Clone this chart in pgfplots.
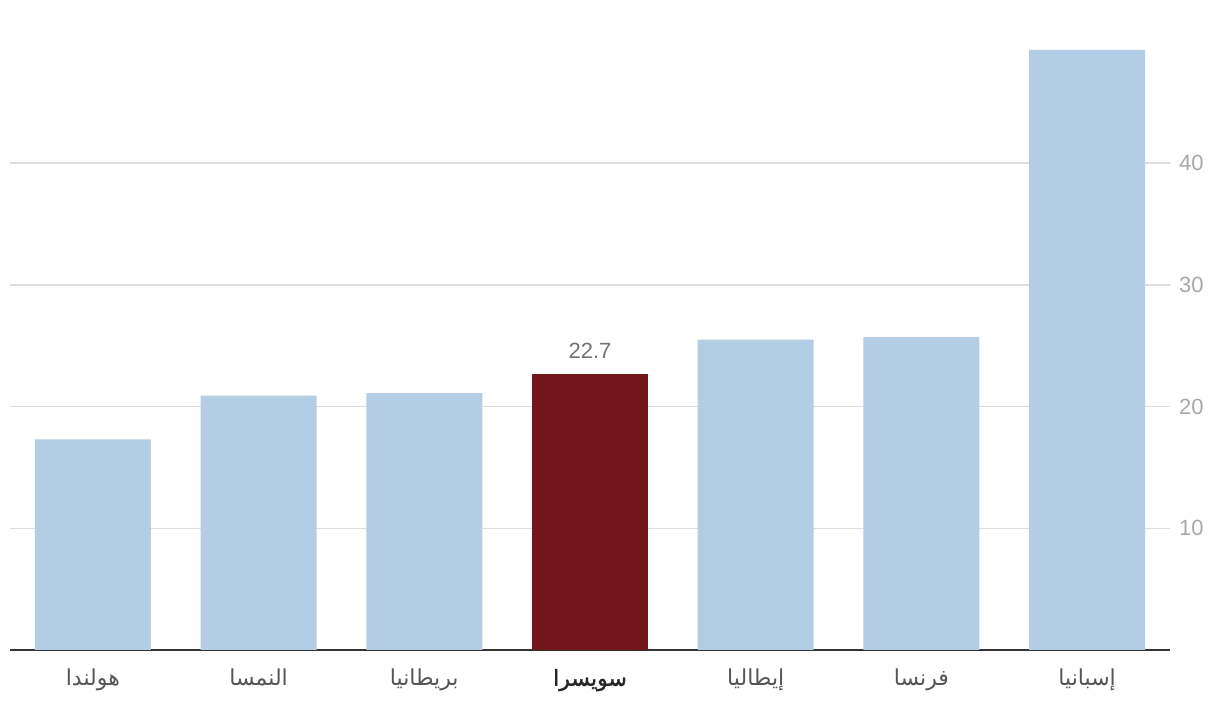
\documentclass[border=0pt]{standalone}
\usepackage{pgfplots}
\pgfplotsset{compat=1.18}
\usepackage{fontspec}
\setmainfont{Liberation Sans}
\newfontfamily\arabicfont[Script=Arabic]{DejaVu Sans}
\newfontfamily\arabicsemi[Script=Arabic, FakeBold=1.4]{DejaVu Sans}
\TeXXeTstate=1
\definecolor{barblue}{HTML}{B3CDE4}
\definecolor{barred}{HTML}{74151B}
\definecolor{gridgray}{HTML}{DDDDDD}
\definecolor{ticklab}{HTML}{A8A8A8}
\definecolor{catlab}{HTML}{555555}
\begin{document}
\begin{tikzpicture}
\begin{axis}[name=ax,
  scale only axis, width=580pt, height=325pt,
  xmin=-0.5, xmax=6.5, ymin=0, ymax=53.4,
  axis y line*=right, axis x line*=bottom,
  y axis line style={draw=none},
  x axis line style={draw=black!80, line width=0.8pt},
  ytick={10,20,30,40}, ymajorgrids, grid style={gridgray, line width=0.7pt},
  major tick length=0pt,
  yticklabel style={font=\fontsize{11}{13}\selectfont, text=ticklab, xshift=1pt},
  /pgf/number format/assume math mode=true,
  xtick={0,...,6},
  xticklabels={
    {\arabicfont\beginR هولندا\endR},
    {\arabicfont\beginR النمسا\endR},
    {\arabicfont\beginR بريطانيا\endR},
    {\arabicsemi\color{black!85}\beginR سويسرا\endR},
    {\arabicfont\beginR إيطاليا\endR},
    {\arabicfont\beginR فرنسا\endR},
    {\arabicfont\beginR إسبانيا\endR}},
  xticklabel style={font=\fontsize{11}{13}\selectfont, text=catlab, yshift=-6pt},
  clip=false,
]
\addplot[ybar, bar width=0.7, bar shift=0pt, fill=barblue, draw=none]
  coordinates {(0,17.3) (1,20.9) (2,21.1) (4,25.5) (5,25.7) (6,49.3)};
\addplot[ybar, bar width=0.7, bar shift=0pt, fill=barred, draw=none,
  nodes near coords, every node near coord/.append style={font=\fontsize{11}{13}\selectfont, text=black!55, yshift=4pt},
  /pgf/number format/.cd, fixed, precision=1, fixed zerofill, assume math mode=true]
  coordinates {(3,22.7)};
\end{axis}
\pgfresetboundingbox
\path ([xshift=-5pt,yshift=-28pt]ax.south west) rectangle ([xshift=25pt]ax.north east);
\end{tikzpicture}
\end{document}
